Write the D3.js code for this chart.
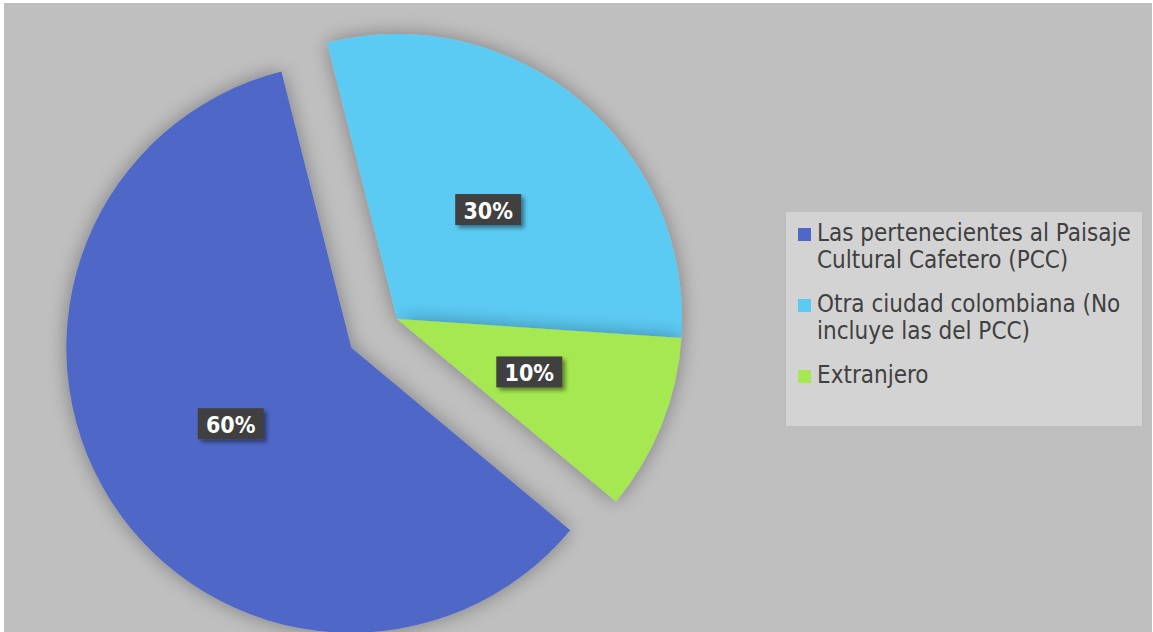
<!DOCTYPE html>
<html>
<head>
<meta charset="utf-8">
<script src="https://cdn.jsdelivr.net/npm/d3@7"></script>
<style>
  html, body { margin: 0; padding: 0; background: #fff; }
  svg { display: block; }
</style>
</head>
<body>
<div id="chart"></div>
<script>
const categories = [
  ['Las pertenecientes al Paisaje', 'Cultural Cafetero (PCC)'],
  ['Otra ciudad colombiana (No', 'incluye las del PCC)'],
  ['Extranjero']
];
const values = [60, 30, 10];
const valueLabels = ['60%', '30%', '10%'];
const colors = ['#4f67c7', '#5ccbf4', '#a6e851'];
const exploded = [true, false, false];

const width = 1153;
const height = 632;
const cx = 397, cy = 319, radius = 285, explodeBy = 54;
const font = "'DejaVu Sans Condensed', 'DejaVu Sans', sans-serif";

const svg = d3.select('#chart').append('svg')
  .attr('width', width)
  .attr('height', height);

const defs = svg.append('defs');
const glow = defs.append('filter').attr('id', 'glow')
  .attr('x', '-20%').attr('y', '-20%').attr('width', '140%').attr('height', '140%');
glow.append('feGaussianBlur').attr('in', 'SourceAlpha').attr('stdDeviation', 10).attr('result', 'b');
glow.append('feComponentTransfer').attr('in', 'b').attr('result', 'c')
  .append('feFuncA').attr('type', 'linear').attr('slope', 0.35);
const gm = glow.append('feMerge');
gm.append('feMergeNode').attr('in', 'c');
gm.append('feMergeNode').attr('in', 'SourceGraphic');

const boxShadow = defs.append('filter').attr('id', 'boxShadow')
  .attr('x', '-30%').attr('y', '-30%').attr('width', '160%').attr('height', '180%');
boxShadow.append('feGaussianBlur').attr('in', 'SourceAlpha').attr('stdDeviation', 2).attr('result', 'b');
boxShadow.append('feOffset').attr('in', 'b').attr('dx', 3).attr('dy', 3).attr('result', 'o');
boxShadow.append('feComponentTransfer').attr('in', 'o').attr('result', 'c')
  .append('feFuncA').attr('type', 'linear').attr('slope', 0.45);
const bm = boxShadow.append('feMerge');
bm.append('feMergeNode').attr('in', 'c');
bm.append('feMergeNode').attr('in', 'SourceGraphic');

// chart area background
svg.append('rect')
  .attr('x', 4).attr('y', 3)
  .attr('width', 1148).attr('height', height - 3)
  .attr('fill', '#bfbfbf');

// first slice starts at ~130deg, clockwise
const pie = d3.pie().sort(null)
  .startAngle(129.8 * Math.PI / 180)
  .endAngle((129.8 + 360) * Math.PI / 180);
const arcs = pie(values);
const arc = d3.arc().innerRadius(0).outerRadius(radius);

const offset = d => {
  if (!exploded[d.index]) return [0, 0];
  const mid = (d.startAngle + d.endAngle) / 2;
  return [Math.sin(mid) * explodeBy, -Math.cos(mid) * explodeBy];
};

const g = svg.append('g').attr('transform', `translate(${cx},${cy})`);

g.selectAll('.slice').data(arcs).enter().append('path')
  .attr('class', 'slice')
  .attr('transform', d => `translate(${offset(d)})`)
  .attr('d', arc)
  .attr('fill', (d, i) => colors[i])
  .attr('filter', 'url(#glow)');

const labels = g.selectAll('.lbl').data(arcs).enter().append('g')
  .attr('class', 'lbl')
  .attr('transform', d => {
    const [ox, oy] = offset(d);
    const [x, y] = arc.centroid(d);
    return `translate(${x + ox},${y + oy})`;
  });
labels.append('rect')
  .attr('x', -33).attr('y', -15.5)
  .attr('width', 66).attr('height', 31)
  .attr('fill', '#404040')
  .attr('filter', 'url(#boxShadow)');
labels.append('text')
  .attr('text-anchor', 'middle')
  .attr('y', 9)
  .attr('font-family', font)
  .attr('font-weight', 'bold')
  .attr('font-size', 23)
  .attr('fill', '#ffffff')
  .text((d, i) => valueLabels[i]);

// legend
const legend = svg.append('g');
legend.append('rect')
  .attr('x', 786).attr('y', 212)
  .attr('width', 356).attr('height', 214)
  .attr('fill', '#d3d3d3');

const itemTops = [228, 299, 370];
const items = legend.selectAll('.item').data(categories).enter().append('g')
  .attr('class', 'item')
  .attr('transform', (d, i) => `translate(798,${itemTops[i]})`);
items.append('rect')
  .attr('width', 13).attr('height', 13)
  .attr('fill', (d, i) => colors[i]);
items.append('text')
  .attr('x', 19)
  .attr('font-family', font)
  .attr('font-size', 24)
  .attr('fill', '#404040')
  .selectAll('tspan').data(d => d).enter().append('tspan')
  .attr('x', 19)
  .attr('y', (d, i) => 13 + i * 27)
  .text(d => d);
</script>
</body>
</html>
